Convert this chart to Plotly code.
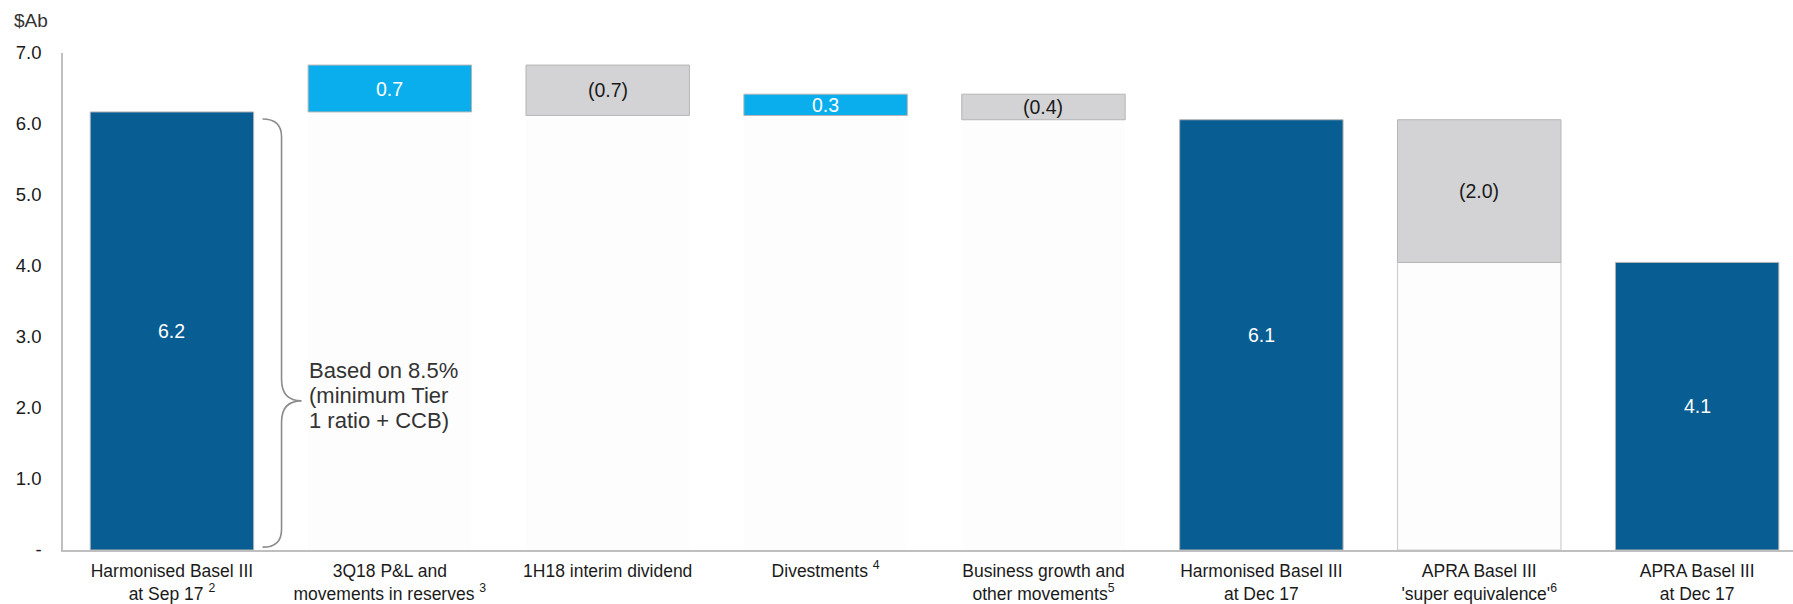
import plotly.graph_objects as go

# ---- data ----
categories = [
    "Harmonised Basel III<br>at Sep 17 <sup>2</sup>",
    "3Q18 P&L and<br>movements in reserves <sup>3</sup>",
    "1H18 interim dividend",
    "Divestments <sup>4</sup>",
    "Business growth and<br>other movements<sup>5</sup>",
    "Harmonised Basel III<br>at Dec 17",
    "APRA Basel III<br>'super equivalence'<sup>6</sup>",
    "APRA Basel III<br>at Dec 17",
]
values = [6.17, 0.66, -0.71, 0.30, -0.36, 6.06, -2.01, 4.05]
measures = ["total", "delta", "delta", "delta", "delta", "total", "delta", "total"]
value_labels = ["6.2", "0.7", "(0.7)", "0.3", "(0.4)", "6.1", "(2.0)", "4.1"]
y_tickvals = [0, 1, 2, 3, 4, 5, 6, 7]
y_ticktext = ["-", "1.0", "2.0", "3.0", "4.0", "5.0", "6.0", "7.0"]
brace_lines = ["Based on 8.5%", "(minimum Tier", "1 ratio + CCB)"]

DARK = "#085D92"
LIGHT = "#0AAEEC"
GREY = "#D3D3D5"
FONT = "Liberation Sans, Arial, sans-serif"

# compute bases from running totals
bases, colors, txtcol = [], [], []
running = 0.0
for v, m in zip(values, measures):
    if m == "total":
        bases.append(0.0)
        colors.append(DARK)
        txtcol.append("white")
        running = v
    else:
        bases.append(running)
        colors.append(LIGHT if v > 0 else GREY)
        txtcol.append("white" if v > 0 else "#1a1a1a")
        running = running + v

# faint underlying "invisible" bars for deltas
under_vals = [min(b, b + v) if m == "delta" else 0 for b, v, m in zip(bases, values, measures)]
under_line = ["#D0D0D0" if (m == "delta" and v < -1) else "rgba(0,0,0,0)" for v, m in zip(values, measures)]

x_idx = list(range(len(categories)))
W = 0.75

fig = go.Figure()
fig.add_trace(go.Bar(
    x=x_idx, y=under_vals, width=W,
    marker=dict(color="#FDFDFD", line=dict(color=under_line, width=1.2)),
    hoverinfo="skip", showlegend=False,
))
fig.add_trace(go.Bar(
    x=x_idx, y=values, base=bases, width=W,
    marker=dict(color=colors, line=dict(color="#B5B5B5", width=1)),
    showlegend=False,
))

# value labels at bar mid-points
for i, (b, v, lab, c) in enumerate(zip(bases, values, value_labels, txtcol)):
    fig.add_annotation(x=i, y=b + v / 2, text=lab, showarrow=False,
                       font=dict(family=FONT, size=19.5, color=c),
                       xanchor="center", yanchor="middle")

# curly brace next to first bar
top = values[0] - 0.10
bot = 0.04
xl, xv, xt = 0.416, 0.503, 0.595
tip = 2.10
r = 0.25
path = (f"M {xl},{top} Q {xv},{top} {xv},{top - r} L {xv},{tip + 0.3} "
        f"Q {xv},{tip} {xt},{tip} Q {xv},{tip} {xv},{tip - 0.3} "
        f"L {xv},{bot + r} Q {xv},{bot} {xl},{bot}")
fig.add_shape(type="path", path=path, xref="x", yref="y",
              line=dict(color="#8C8C8C", width=1.6))
for k, line in enumerate(brace_lines):
    fig.add_annotation(x=0.620, y=2.17, xref="x", yref="y", text=line,
                       yshift=(1 - k) * 25,
                       showarrow=False, align="left", xanchor="left", yanchor="middle",
                       font=dict(family=FONT, size=22, color="#333333"))

# unit label
fig.add_annotation(xref="paper", yref="paper", x=-0.0295, y=1.066, text="$Ab",
                   showarrow=False, xanchor="left", yanchor="middle",
                   font=dict(family=FONT, size=19, color="#333333"))

fig.update_layout(
    width=1793, height=604,
    margin=dict(l=63, r=0, t=53, b=52),
    paper_bgcolor="white", plot_bgcolor="white",
    barmode="overlay", bargap=0.25,
    font=dict(family=FONT, color="#1a1a1a"),
    xaxis=dict(range=[-0.5, 7.44], tickvals=x_idx, ticktext=categories,
               showgrid=False, zeroline=False, showline=True,
               linecolor="#BFBFBF", linewidth=1.5, ticks="",
               tickfont=dict(family=FONT, size=17.5, color="#1a1a1a"),
               ticklabelstandoff=4),
    yaxis=dict(range=[0, 7], tickvals=y_tickvals, ticktext=y_ticktext,
               showgrid=False, zeroline=False, showline=True,
               linecolor="#BFBFBF", linewidth=1.5, ticks="",
               tickfont=dict(family=FONT, size=18.5, color="#1a1a1a"),
               ticklabelstandoff=16),
)

fig.write_html("out.html")
